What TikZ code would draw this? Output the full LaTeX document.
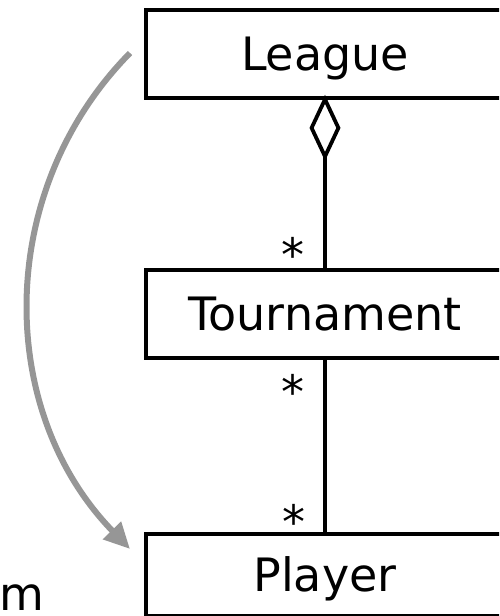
\documentclass[tikz,border=0pt]{standalone}
\usepackage{fontspec}
\setmainfont{DejaVu Sans}
\usetikzlibrary{arrows.meta}
\definecolor{arcgray}{RGB}{150,150,150}
\tikzset{
  classbox/.style={draw=black, line width=3.8pt, minimum width=358pt, inner sep=0pt,
    font=\fontsize{46}{50}\selectfont, text height=33.5pt, text depth=0pt},
  assoc/.style={draw=black, line width=3.8pt},
  mult/.style={font=\fontsize{46}{50}\selectfont, anchor=base, inner sep=0pt},
  flow/.style={draw=arcgray, line width=6pt, -{Triangle[length=26pt,width=24pt]}}
}
\begin{document}
\begin{tikzpicture}[x=1pt,y=-1pt]
\useasboundingbox (0,0) rectangle (499,616);
\clip (0,0) rectangle (499,616);
\node[classbox, minimum height=88pt] (league) at (325,54) {League};
\node[classbox, minimum height=88pt] (tournament) at (325,314) {Tournament};
\node[classbox, minimum height=82pt] (player) at (325,575) {Player};
\draw[assoc, shorten >=-5pt, -{Diamond[open,length=66pt,width=31pt,line width=3.8pt]}] (tournament.north) -- (league.south);
\draw[assoc] (tournament.south) -- (player.north);
\node[mult] (m1) at (293,271) {*};
\node[mult] (m2) at (293,408) {*};
\node[mult] (m3) at (294,538) {*};
\coordinate (s) at (130,53);
\coordinate (e) at (130,549);
\draw[flow] (s) .. controls (-5,190) and (-5,410) .. (e);
\node[font=\fontsize{46}{50}\selectfont, anchor=base west, inner sep=0pt] (mtext) at (-1,610) {m};
\end{tikzpicture}
\end{document}
